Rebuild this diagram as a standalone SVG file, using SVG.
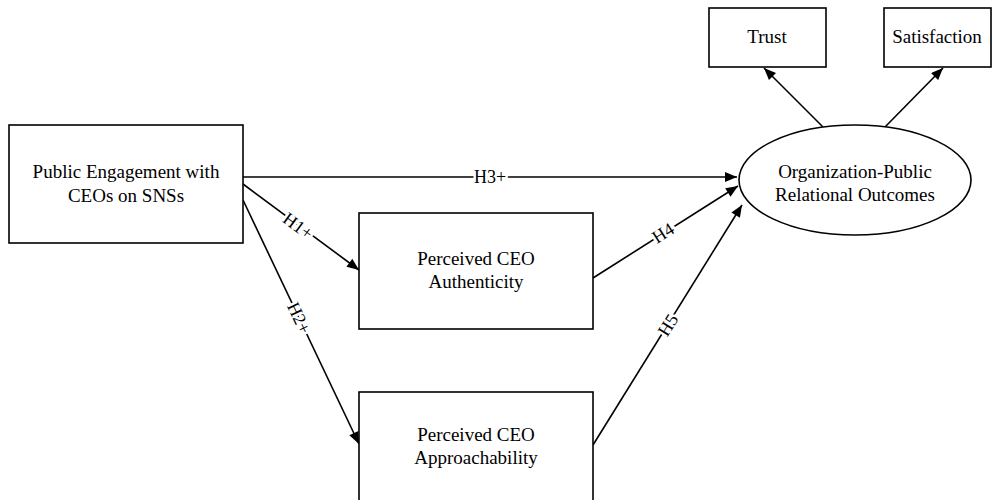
<svg xmlns="http://www.w3.org/2000/svg" width="994" height="500" viewBox="0 0 994 500">
<defs>
<style>
.box{fill:#fff;stroke:#000;stroke-width:1.6}
.t{font-family:"Liberation Serif","Times New Roman",serif;font-size:19px;fill:#000;text-anchor:middle}
.lbl{font-family:"Liberation Serif","Times New Roman",serif;font-size:18px;fill:#000;text-anchor:middle;dominant-baseline:central;stroke:#fff;stroke-width:5;paint-order:stroke}
.e{stroke:#000;stroke-width:1.6;fill:none;marker-end:url(#ah)}
</style>
<marker id="ah" viewBox="0 0 12 10" refX="12" refY="5" markerWidth="13" markerHeight="10" markerUnits="userSpaceOnUse" orient="auto">
<path d="M0,0 L12,5 L0,10 z" fill="#000"/>
</marker>
</defs>
<rect width="994" height="500" fill="#fff"/>
<g id="connectors">
<line class="e" x1="243" y1="177" x2="737" y2="177"/>
<line class="e" x1="243" y1="184" x2="359" y2="270"/>
<line class="e" x1="243" y1="200" x2="359" y2="444"/>
<line class="e" x1="593" y1="278" x2="738" y2="186"/>
<line class="e" x1="593" y1="445" x2="742" y2="205"/>
<line class="e" x1="823" y1="127" x2="764" y2="68"/>
<line class="e" x1="885" y1="127" x2="943" y2="68"/>
<text class="lbl" x="490" y="177">H3+</text>
<text class="lbl" transform="translate(298,226) rotate(36.6)">H1+</text>
<text class="lbl" transform="translate(299,318) rotate(64.6)">H2+</text>
<text class="lbl" transform="translate(663,233) rotate(-32.4)">H4</text>
<text class="lbl" transform="translate(668,325) rotate(-58.2)">H5</text>
</g>
<g id="engagement">
<rect class="box" x="9" y="125" width="234" height="118"/>
<text class="t" x="126" y="178">Public Engagement with</text>
<text class="t" x="126" y="202">CEOs on SNSs</text>
</g>
<g id="authenticity">
<rect class="box" x="359" y="213" width="234" height="116"/>
<text class="t" x="476" y="265">Perceived CEO</text>
<text class="t" x="476" y="288">Authenticity</text>
</g>
<g id="approachability">
<rect class="box" x="359" y="392" width="234" height="120"/>
<text class="t" x="476" y="441">Perceived CEO</text>
<text class="t" x="476" y="464">Approachability</text>
</g>
<g id="outcomes">
<ellipse class="box" cx="855" cy="180" rx="116" ry="55"/>
<text class="t" x="855" y="178">Organization-Public</text>
<text class="t" x="855" y="201">Relational Outcomes</text>
</g>
<g id="trust">
<rect class="box" x="709" y="8" width="117" height="59"/>
<text class="t" x="767" y="43">Trust</text>
</g>
<g id="satisfaction">
<rect class="box" x="884" y="8" width="107" height="59"/>
<text class="t" x="937" y="43">Satisfaction</text>
</g>
</svg>
